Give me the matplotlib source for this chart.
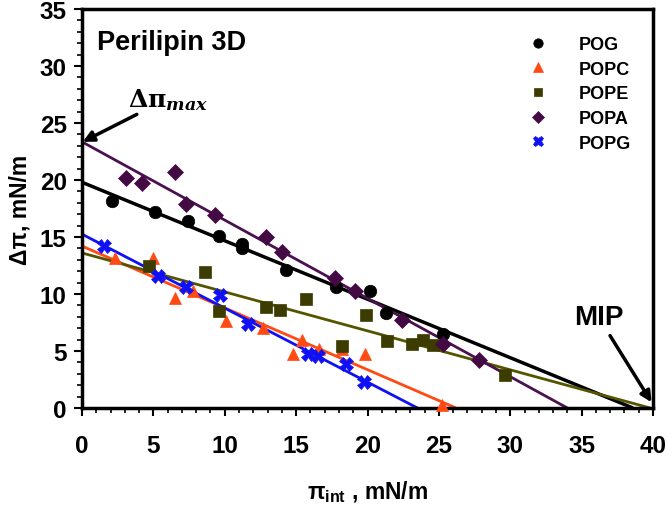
import matplotlib
matplotlib.use("Agg")
import matplotlib.pyplot as plt
from matplotlib.ticker import MultipleLocator

plt.rcParams['font.family'] = ['Liberation Sans', 'DejaVu Sans']
plt.rcParams['font.weight'] = 'bold'
plt.rcParams['mathtext.fontset'] = 'custom'
plt.rcParams['mathtext.rm'] = 'Liberation Sans:bold'
plt.rcParams['mathtext.bf'] = 'Liberation Sans:bold'
plt.rcParams['mathtext.it'] = 'Liberation Sans:bold'

# ---- data ----
series = ["POG", "POPC", "POPE", "POPA", "POPG"]

pog_x = [2.1, 5.1, 7.4, 9.6, 11.2, 11.2, 14.3, 17.8, 20.2, 21.3, 25.3]
pog_y = [18.2, 17.2, 16.4, 15.1, 14.4, 14.0, 12.1, 10.6, 10.3, 8.3, 6.5]

popc_x = [2.3, 5.0, 6.5, 7.75, 10.1, 12.7, 14.8, 15.4, 16.6, 18.2, 19.8, 25.2]
popc_y = [13.2, 13.2, 9.65, 10.25, 7.6, 7.0, 4.7, 6.0, 5.2, 5.2, 4.7, 0.3]

pope_x = [4.7, 8.6, 9.6, 12.9, 13.9, 15.7, 18.2, 19.9, 21.4, 23.1, 23.9, 24.6, 29.6]
pope_y = [12.5, 11.9, 8.5, 8.9, 8.6, 9.6, 5.45, 8.2, 5.85, 5.6, 6.0, 5.5, 2.9]

popa_x = [3.1, 4.2, 6.5, 7.3, 9.35, 12.9, 14.0, 17.7, 19.1, 22.4, 25.3, 27.8]
popa_y = [20.2, 19.7, 20.7, 17.9, 16.9, 15.0, 13.7, 11.4, 10.3, 7.75, 5.6, 4.2]

popg_x = [1.55, 5.3, 7.3, 9.7, 11.6, 15.85, 16.5, 18.5, 19.75]
popg_y = [14.2, 11.55, 10.6, 9.9, 7.4, 4.7, 4.6, 3.85, 2.3]

# fitted lines: y-intercept (delta pi max) and x-intercept (MIP)
fit_intercept = [19.8, 14.2, 13.6, 23.35, 15.25]
fit_mip = [38.6, 26.2, 39.8, 34.0, 23.5]

# ---- style ----
colors = ["#000000", "#FF4A14", "#3C3C00", "#440A44", "#1010F5"]
line_colors = ["#000000", "#FF4A14", "#555500", "#4A1050", "#1010F5"]
markers = ["o", "^", "s", "D", "X"]
msizes = [9, 9, 8.5, 8, 10]
xs = [pog_x, popc_x, pope_x, popa_x, popg_x]
ys = [pog_y, popc_y, pope_y, popa_y, popg_y]

fig = plt.figure(figsize=(6.67, 5.06), dpi=100)
ax = fig.add_axes([82 / 667, 1 - 409 / 506, (653 - 82) / 667, (409 - 10) / 506])

handles = []
for i, name in enumerate(series):
    lw = 2.5 if i == 0 else 2.0
    ax.plot([0, fit_mip[i]], [fit_intercept[i], 0], color=line_colors[i], lw=lw,
            zorder=2, solid_capstyle='butt')
for i, name in enumerate(series):
    h, = ax.plot(xs[i], ys[i], linestyle='none', marker=markers[i], ms=msizes[i],
                 color=colors[i], mec=colors[i], mew=0.5, zorder=3, label=name,
                 clip_on=False)
    handles.append(h)

ax.set_xlim(0, 40)
ax.set_ylim(0, 35)
ax.xaxis.set_major_locator(MultipleLocator(5))
ax.xaxis.set_minor_locator(MultipleLocator(1))
ax.yaxis.set_major_locator(MultipleLocator(5))
ax.yaxis.set_minor_locator(MultipleLocator(1))
ax.tick_params(which='major', direction='out', length=6, width=1.5, labelsize=17.5)
ax.tick_params(which='minor', direction='out', length=3.5, width=1.2)
ax.tick_params(axis='x', which='major', pad=13)
ax.tick_params(axis='y', which='major', pad=5)
for lab in ax.get_xticklabels() + ax.get_yticklabels():
    lab.set_fontweight('bold')
for s in ax.spines.values():
    s.set_linewidth(2.5)

ax.set_xlabel('$\\mathbf{\u03c0_{int}}$ , mN/m', fontsize=16.5, fontweight='bold',
              labelpad=15)
ax.set_ylabel('\u0394\u03c0, mN/m', fontsize=16.5, fontweight='bold', labelpad=6)

ax.text(0.026, 0.95, 'Perilipin 3D', transform=ax.transAxes, fontsize=19.5,
        fontweight='bold', va='top', ha='left')

ax.annotate(r'$\mathbf{\Delta\pi_{\mathit{max}}}$', xy=(0.05, fit_intercept[3]),
            xytext=(3.2, 26.0), fontsize=18, ha='left', va='bottom',
            math_fontfamily='dejavuserif',
            arrowprops=dict(arrowstyle='-|>', color='black', lw=2.5,
                            mutation_scale=16, shrinkA=0, shrinkB=0),
            annotation_clip=False)
ax.annotate('MIP', xy=(39.9, 0.5), xytext=(36.2, 6.8), fontsize=20,
            fontweight='bold', ha='center', va='bottom',
            arrowprops=dict(arrowstyle='-|>', color='black', lw=2.5,
                            mutation_scale=16, shrinkA=2, shrinkB=0))

leg = ax.legend(handles=handles, loc='upper left', bbox_to_anchor=(0.77, 0.95),
                frameon=False, fontsize=13, markerscale=0.75, handlelength=1.0,
                handletextpad=1.75, labelspacing=0.42, borderaxespad=0)
for t in leg.get_texts():
    t.set_fontweight('bold')

fig.savefig('out.png', dpi=100)
